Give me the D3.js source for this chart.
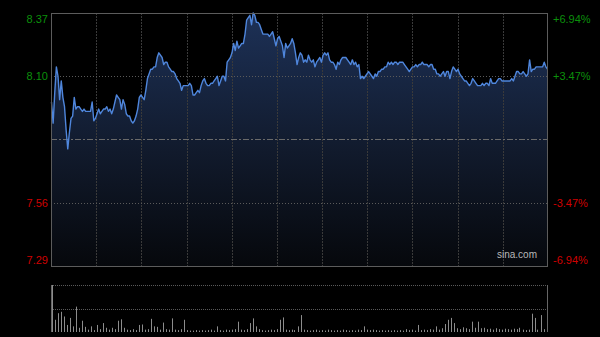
<!DOCTYPE html>
<html>
<head>
<meta charset="utf-8">
<script src="https://d3js.org/d3.v7.min.js"></script>
<style>
  html, body {
    margin: 0;
    padding: 0;
    background: #000;
  }
  svg text {
    font-family: "Liberation Sans", Arial, sans-serif;
    font-size: 11px;
  }
</style>
</head>
<body>
<div id="chart"></div>

<script type="text/javascript">

  // price readings through the session, evenly spaced in time
  var prices = [
    7.99, 7.90, 8.03, 8.14, 8.10, 8.00, 8.08, 8.01, 7.97, 7.87,
    7.79, 7.86, 7.92, 7.93, 8.01, 7.96, 7.97, 7.97, 7.96, 7.95,
    7.96, 7.95, 7.95, 7.95, 7.95, 7.99, 7.91, 7.92, 7.94, 7.96,
    7.94, 7.95, 7.96, 7.96, 7.97, 7.95, 7.96, 7.94, 7.96, 7.99,
    8.02, 8.01, 8.00, 7.96, 8.00, 7.98, 7.94, 7.93, 7.93, 7.91,
    7.90, 7.91, 7.93, 7.96, 8.01, 8.02, 8.01, 8.00, 8.04, 8.09,
    8.11, 8.13, 8.13, 8.14, 8.14, 8.18, 8.20, 8.19, 8.18, 8.15,
    8.16, 8.16, 8.14, 8.13, 8.12,
    8.12, 8.11, 8.09, 8.08, 8.07, 8.04, 8.06, 8.06, 8.06, 8.06,
    8.07, 8.06, 8.02, 8.02, 8.03, 8.04, 8.03, 8.06, 8.08, 8.09,
    8.07, 8.06, 8.06, 8.07, 8.07, 8.08, 8.09, 8.10, 8.06, 8.08,
    8.10, 8.10, 8.08, 8.16, 8.17, 8.18, 8.20, 8.24, 8.21, 8.25,
    8.22, 8.23, 8.24, 8.24, 8.28, 8.34, 8.35, 8.36, 8.32, 8.37,
    8.36, 8.33, 8.33, 8.32, 8.30, 8.28, 8.28, 8.28, 8.28, 8.27,
    8.28, 8.29, 8.26, 8.23, 8.26, 8.27, 8.25, 8.23, 8.18, 8.24,
    8.22, 8.23, 8.24, 8.26, 8.24, 8.20, 8.15, 8.18,
    8.20, 8.19, 8.16, 8.17, 8.16, 8.19, 8.17, 8.16, 8.17, 8.14,
    8.16, 8.17, 8.18, 8.16, 8.19, 8.20, 8.19, 8.20, 8.17, 8.16,
    8.16, 8.15, 8.13, 8.16, 8.15, 8.17, 8.18, 8.18, 8.18, 8.17,
    8.16, 8.15, 8.17, 8.15, 8.16, 8.14, 8.15, 8.09, 8.10, 8.09,
    8.10, 8.11, 8.12, 8.11, 8.10, 8.09, 8.11, 8.10, 8.12, 8.12,
    8.13, 8.13, 8.14, 8.14, 8.16, 8.15, 8.16, 8.15, 8.16, 8.16,
    8.15, 8.16, 8.16, 8.16, 8.15, 8.14, 8.13, 8.12, 8.13, 8.14,
    8.14, 8.15, 8.14, 8.15, 8.15, 8.16,
    8.15, 8.15, 8.15, 8.14, 8.15, 8.15, 8.13, 8.13, 8.11, 8.11,
    8.10, 8.11, 8.12, 8.10, 8.12, 8.12, 8.09, 8.12, 8.14, 8.13,
    8.12, 8.13, 8.11, 8.10, 8.09, 8.08, 8.08, 8.07, 8.06, 8.07,
    8.09, 8.08, 8.07, 8.06, 8.06, 8.06, 8.07, 8.06, 8.07, 8.07,
    8.06, 8.09, 8.07, 8.07, 8.07, 8.08, 8.09, 8.09, 8.08, 8.08,
    8.08, 8.08, 8.08, 8.08, 8.09, 8.08, 8.10, 8.12, 8.12, 8.11,
    8.11, 8.12, 8.11, 8.10, 8.11, 8.17, 8.12, 8.13, 8.13, 8.14,
    8.14, 8.14, 8.14, 8.14, 8.16, 8.14, 8.13
  ];

  // volume bars, relative to the height of the lower panel (100 = full)
  var volumes = [
    100, 26, 40, 43, 33, 15, 30, 12, 54, 9,
    24, 11, 5, 12, 4, 15, 6, 19, 9, 5,
    9, 6, 24, 27, 9, 5, 4, 6, 4, 15,
    16, 5, 6, 28, 12, 11, 5, 20, 6, 5,
    29, 5, 4, 6, 26, 4, 3, 3, 4, 3,
    4, 3, 4, 5, 3, 12, 4, 3, 5, 4,
    5, 6, 22, 5, 4, 6, 19, 29, 12, 6,
    4, 3, 4, 5, 4, 6, 26, 31, 5, 4,
    5, 4, 12, 36, 5, 4, 3, 4, 5, 3,
    4, 3, 5, 4, 3, 4, 3, 5, 4, 3,
    4, 3, 5, 4, 12, 5, 4, 5, 4, 3,
    4, 3, 4, 3, 4, 3, 4, 3, 6, 4,
    5, 3, 15, 4, 5, 4, 6, 5, 12, 5,
    8, 17, 26, 30, 19, 8, 6, 10, 8, 6,
    22, 9, 22, 8, 9, 6, 7, 5, 8, 6,
    5, 7, 6, 5, 7, 6, 9, 5, 4, 5,
    39, 30, 5, 36, 6, 12
  ];

  var prevClose = 7.83,
    priceTicks = [8.37, 8.10, 7.56, 7.29],
    pctTicks = ["+6.94%", "+3.47%", "-3.47%", "-6.94%"],
    tickColors = ["#0b900b", "#0b900b", "#cf0000", "#cf0000"],
    gridCount = 11;

  var width = 600,
    height = 337,
    plot = {left: 51, right: 548, top: 13, bottom: 266},
    vol = {top: 285, mid: 309, bottom: 332};

  var svg = d3.select("#chart").append("svg")
    .attr("width", width)
    .attr("height", height)
    .style("display", "block")
    .style("background", "#000");

  var x = d3.scaleLinear().domain([0, prices.length - 1]).range([plot.left + 0.5, plot.right - 0.5]),
    xGrid = d3.scaleLinear().domain([0, gridCount]).range([plot.left, plot.right]),
    y = d3.scaleLinear().domain([7.29, 8.37]).range([plot.bottom, plot.top]),
    xVol = d3.scaleLinear().domain([0, volumes.length - 1]).range([plot.left + 0.5, plot.right - 1.5]),
    yVol = d3.scaleLinear().domain([0, 100]).range([vol.bottom, vol.top]);

  var defs = svg.append("defs");
  var grad = defs.append("linearGradient")
    .attr("id", "areaFill")
    .attr("gradientUnits", "userSpaceOnUse")
    .attr("x1", 0).attr("y1", plot.top)
    .attr("x2", 0).attr("y2", plot.bottom);
  grad.append("stop").attr("offset", "0%").attr("stop-color", "#1d3157");
  grad.append("stop").attr("offset", "55%").attr("stop-color", "#111a2c");
  grad.append("stop").attr("offset", "100%").attr("stop-color", "#06080c");

  // area under the price line
  var area = d3.area()
    .x(function (d, i) { return x(i); })
    .y0(plot.bottom)
    .y1(function (d) { return y(d); });

  svg.append("path")
    .datum(prices)
    .attr("d", area)
    .attr("fill", "url(#areaFill)");

  // vertical grid
  var grid = svg.append("g");
  grid.selectAll("line.v")
    .data(d3.range(1, gridCount))
    .enter()
    .append("line")
    .attr("class", "v")
    .attr("x1", function (d) { return Math.round(xGrid(d)) + 0.5; })
    .attr("x2", function (d) { return Math.round(xGrid(d)) + 0.5; })
    .attr("y1", plot.top)
    .attr("y2", plot.bottom)
    .attr("stroke", "#3a3a3a")
    .attr("stroke-dasharray", "2,1");

  // horizontal grid at the price ticks
  grid.selectAll("line.h")
    .data([8.10, 7.56])
    .enter()
    .append("line")
    .attr("class", "h")
    .attr("x1", plot.left)
    .attr("x2", plot.right)
    .attr("y1", function (d) { return Math.round(y(d)) + 0.5; })
    .attr("y2", function (d) { return Math.round(y(d)) + 0.5; })
    .attr("stroke", "#5a5a5a")
    .attr("stroke-dasharray", "1,2");

  // previous close line
  grid.append("line")
    .attr("x1", plot.left)
    .attr("x2", plot.right)
    .attr("y1", Math.round(y(prevClose)) + 0.5)
    .attr("y2", Math.round(y(prevClose)) + 0.5)
    .attr("stroke", "#6a6a6a")
    .attr("stroke-dasharray", "6,2,2,2");

  // price line
  var line = d3.line()
    .x(function (d, i) { return x(i); })
    .y(function (d) { return y(d); });

  svg.append("path")
    .datum(prices)
    .attr("d", line)
    .attr("fill", "none")
    .attr("stroke", "#4f86dc")
    .attr("stroke-width", 1.4)
    .attr("stroke-linejoin", "round");

  // frame
  svg.append("rect")
    .attr("x", plot.left + 0.5)
    .attr("y", plot.top + 0.5)
    .attr("width", plot.right - plot.left - 1)
    .attr("height", plot.bottom - plot.top)
    .attr("fill", "none")
    .attr("stroke", "#5c5c5c");

  // axis labels
  svg.selectAll("text.price")
    .data(priceTicks)
    .enter()
    .append("text")
    .attr("class", "price")
    .attr("x", plot.left - 3)
    .attr("y", function (d, i) {
      var py = y(d);
      if (i === 0) py += 6;
      if (i === priceTicks.length - 1) py -= 6;
      return py;
    })
    .attr("dy", "0.35em")
    .attr("text-anchor", "end")
    .attr("fill", function (d, i) { return tickColors[i]; })
    .text(function (d) { return d3.format(".2f")(d); });

  svg.selectAll("text.pct")
    .data(pctTicks)
    .enter()
    .append("text")
    .attr("class", "pct")
    .attr("x", plot.right + 5)
    .attr("y", function (d, i) {
      var py = y(priceTicks[i]);
      if (i === 0) py += 6;
      if (i === pctTicks.length - 1) py -= 6;
      return py;
    })
    .attr("dy", "0.35em")
    .attr("fill", function (d, i) { return tickColors[i]; })
    .text(function (d) { return d; });

  svg.append("text")
    .attr("x", plot.right - 11)
    .attr("y", plot.bottom - 8)
    .attr("text-anchor", "end")
    .attr("fill", "#b8b8b8")
    .style("font-size", "10px")
    .text("sina.com");

  // volume panel
  var vp = svg.append("g");
  vp.selectAll("line.vg")
    .data([vol.top, vol.mid])
    .enter()
    .append("line")
    .attr("class", "vg")
    .attr("x1", plot.left)
    .attr("x2", plot.right)
    .attr("y1", function (d) { return d + 0.5; })
    .attr("y2", function (d) { return d + 0.5; })
    .attr("stroke", "#5a5a5a")
    .attr("stroke-dasharray", "1,1");

  vp.selectAll("rect.bar")
    .data(volumes)
    .enter()
    .append("rect")
    .attr("class", "bar")
    .attr("x", function (d, i) { return Math.round(xVol(i)); })
    .attr("width", 1)
    .attr("y", function (d) { return yVol(d); })
    .attr("height", function (d) { return vol.bottom - yVol(d); })
    .attr("fill", "#8c8c8c");

  vp.selectAll("line.side")
    .data([plot.left, plot.right - 1])
    .enter()
    .append("line")
    .attr("class", "side")
    .attr("x1", function (d) { return d + 0.5; })
    .attr("x2", function (d) { return d + 0.5; })
    .attr("y1", vol.top)
    .attr("y2", vol.bottom)
    .attr("stroke", "#666");

</script>
</body>
</html>
